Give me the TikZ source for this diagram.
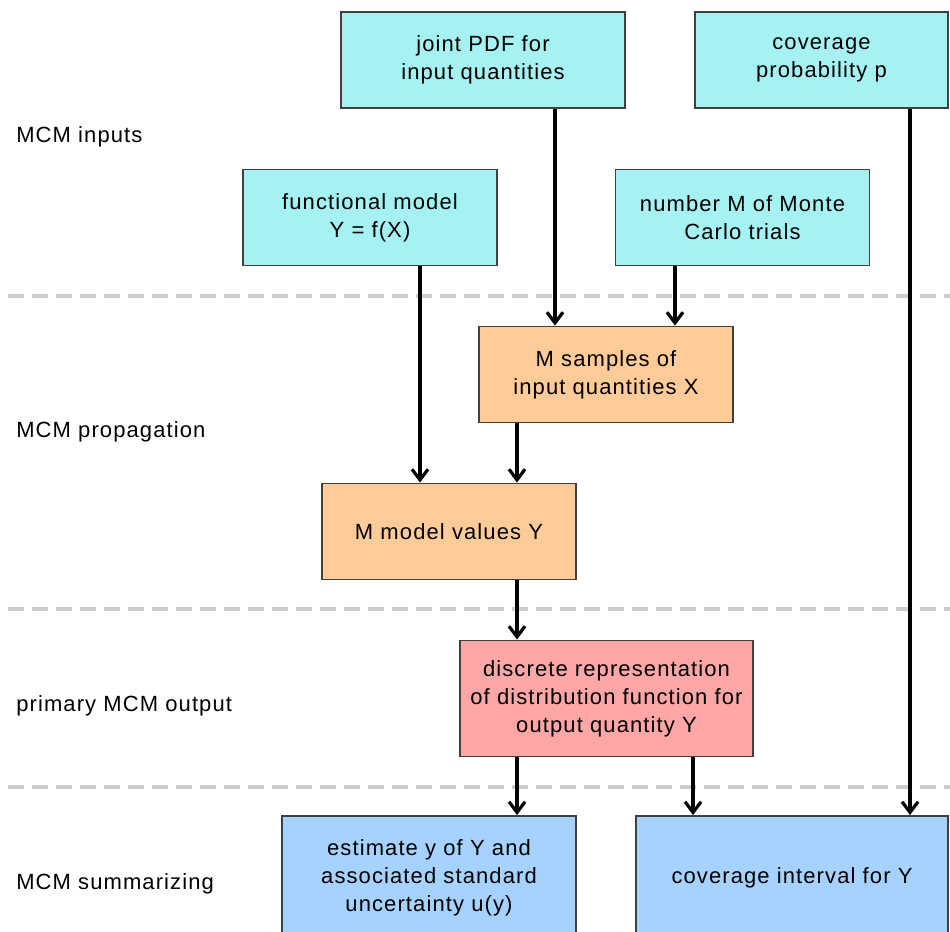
\documentclass[tikz,border=0pt]{standalone}
\usepackage{fontspec}
\setmainfont{Liberation Sans}[LetterSpace=5]
\usetikzlibrary{arrows.meta, calc}

\definecolor{inputc}{RGB}{166,242,242}
\definecolor{propc}{RGB}{255,204,153}
\definecolor{outc}{RGB}{255,166,166}
\definecolor{sumc}{RGB}{166,210,255}

\begin{document}
\begin{tikzpicture}[
        x=0.75pt, y=-0.75pt,
        font=\fontsize{16.5}{21}\selectfont,
        box/.style={draw=black!75, line width=1.4pt, rectangle, align=center,
            minimum width=#1*0.75pt, inner sep=0pt},
        box/.default=254,
        in-box/.style={box=#1, fill=inputc, minimum height=72pt},
        in-box/.default=254,
        prop-box/.style={box=#1, fill=propc, minimum height=72pt},
        prop-box/.default=254,
        out-box/.style={box=293, fill=outc, minimum height=87pt},
        sum-box/.style={box=#1, fill=sumc, minimum height=93pt},
        phase/.style={anchor=west, inner sep=0pt},
        sep/.style={gray!40, line width=3pt, dash pattern=on 12pt off 6pt},
        post/.style={-{Straight Barb[length=8pt, width=12pt, line width=2.4pt]}, line width=2.4pt},
    ]
        \useasboundingbox (0,0) rectangle (950,932);

        % phase separators
        \foreach \y in {296, 609, 787}
            \draw[sep] (8,\y) -- (950,\y);

        % phase labels
        \node[phase] (l-inputs) at (16,137) {MCM inputs};
        \node[phase] (l-prop) at (16,432) {MCM propagation};
        \node[phase] (l-out) at (16,706) {primary MCM output};
        \node[phase] (l-sum) at (16,884) {MCM summarizing};

        % inputs
        \node[in-box=284] (jpdf) at (483,60) {joint PDF for\\input quantities};
        \node[in-box=253] (covp) at (821.5,60) {coverage\\probability p};
        \node[in-box] (func) at (370,217.5) {functional model\\Y = f(X)};
        \node[in-box] (trials) at (742.5,217.5) {number M of Monte\\Carlo trials};

        % propagation
        \node[prop-box] (samples) at (606,374.5) {M samples of\\input quantities X};
        \node[prop-box] (values) at (449,531.5) {M model values Y};

        % output
        \node[out-box] (distr) at (606.5,698.5) {discrete representation\\of distribution function for\\output quantity Y};

        % summarizing
        \node[sum-box=294] (estim) at (429,878) {estimate y of Y and\\associated standard\\uncertainty u(y)};
        \node[sum-box=312] (covint) at (792,878) {coverage interval for Y};

        % connectors
        \draw[post] ($(jpdf.south)+(72,0)$) coordinate (c1) -- (c1 |- samples.north);
        \draw[post] ($(trials.south)+(-67.5,0)$) coordinate (c2) -- (c2 |- samples.north);
        \draw[post] ($(func.south)+(50,0)$) coordinate (c3) -- (c3 |- values.north);
        \draw[post] ($(samples.south)+(-89,0)$) coordinate (c4) -- (c4 |- values.north);
        \draw[post] ($(values.south)+(68,0)$) coordinate (c5) -- (c5 |- distr.north);
        \draw[post] ($(distr.south)+(-89.5,0)$) coordinate (c6) -- (c6 |- estim.north);
        \draw[post] ($(distr.south)+(86.5,0)$) coordinate (c7) -- (c7 |- covint.north);
        \draw[post] ($(covp.south)+(88.5,0)$) coordinate (c8) -- (c8 |- covint.north);
    \end{tikzpicture}
\end{document}
